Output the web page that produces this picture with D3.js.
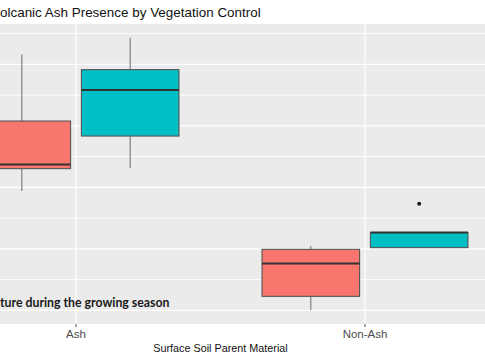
<!DOCTYPE html>
<html><head><meta charset="utf-8">
<script src="https://cdn.jsdelivr.net/npm/d3@7"></script>
<style>html,body{margin:0;padding:0;background:#fff;overflow:hidden}</style>
</head><body>
<svg id="chart" width="485" height="360"></svg>
<script>
// ---- data (y units arbitrary) ----
const categories = ["Ash", "Non-Ash"];
const groups = ["Control", "Treated"];
const groupColors = ["#F8766D", "#00BFC4"];
// five-number summaries: [min, q1, median, q3, max]
const controlStats = [[19.70, 21.52, 21.85, 25.39, 30.79], [10.00, 11.14, 13.80, 14.96, 15.23]];
const treatedStats = [[21.57, 24.17, 27.91, 29.57, 32.17], [15.10, 15.10, 16.32, 16.32, 16.32]];
const treatedOutliers = [[], [18.67]];
const yMajorTicks = [10, 15, 20, 25, 30];
const yMinorTicks = [12.5, 17.5, 22.5, 27.5, 32.5];
const titleText = "olcanic Ash Presence by Vegetation Control";
const xTitle = "Surface Soil Parent Material";
const noteText = "ture during the growing season";

const svg = d3.select("#chart");
const panelTop = 24, panelBottom = 324;
const x = d3.scaleLinear().domain([0.4, 2.6]).range([-97.4, 538.4]);
const yDomMin = 10 - 0.05 * (32.17 - 10), yDomMax = 32.17 + 0.05 * (32.17 - 10);
const y = d3.scaleLinear().domain([yDomMin, yDomMax]).range([panelBottom, panelTop]);

// panel
svg.append("rect").attr("x", x(0.4)).attr("y", panelTop).attr("width", x(2.6) - x(0.4))
  .attr("height", panelBottom - panelTop).attr("fill", "#EBEBEB");

const grid = svg.append("g");
grid.selectAll(".minor").data(yMinorTicks).join("line")
  .attr("x1", x(0.4)).attr("x2", x(2.6)).attr("y1", d => y(d)).attr("y2", d => y(d))
  .attr("stroke", "#fff").attr("stroke-width", 0.9);
grid.selectAll(".major").data(yMajorTicks).join("line")
  .attr("x1", x(0.4)).attr("x2", x(2.6)).attr("y1", d => y(d)).attr("y2", d => y(d))
  .attr("stroke", "#fff").attr("stroke-width", 1.2);
grid.selectAll(".vx").data(categories).join("line")
  .attr("x1", (d, i) => x(i + 1)).attr("x2", (d, i) => x(i + 1))
  .attr("y1", panelTop).attr("y2", panelBottom)
  .attr("stroke", "#fff").attr("stroke-width", 1.2);

// boxes
const boxW = 0.3375, offset = 0.1875;
const series = [controlStats, treatedStats];
series.forEach((stats, gi) => {
  stats.forEach((s, ci) => {
    const cx = ci + 1 + (gi === 0 ? -offset : offset);
    const xl = x(cx - boxW / 2), xr = x(cx + boxW / 2), xc = x(cx);
    const g = svg.append("g");
    g.append("line").attr("x1", xc).attr("x2", xc).attr("y1", y(s[4])).attr("y2", y(s[3]))
      .attr("stroke", "#777").attr("stroke-width", 1.1);
    g.append("line").attr("x1", xc).attr("x2", xc).attr("y1", y(s[1])).attr("y2", y(s[0]))
      .attr("stroke", "#777").attr("stroke-width", 1.1);
    g.append("rect").attr("x", xl).attr("y", y(s[3])).attr("width", xr - xl)
      .attr("height", Math.max(0, y(s[1]) - y(s[3])))
      .attr("fill", groupColors[gi]).attr("stroke", "#555").attr("stroke-width", 1.1);
    g.append("line").attr("x1", xl).attr("x2", xr).attr("y1", y(s[2])).attr("y2", y(s[2]))
      .attr("stroke", "#333").attr("stroke-width", 2);
  });
});
treatedOutliers.forEach((pts, ci) => {
  svg.selectAll(null).data(pts).join("circle")
    .attr("cx", x(ci + 1 + offset)).attr("cy", d => y(d)).attr("r", 2)
    .attr("fill", "#1a1a1a");
});

// x axis
const xAxis = svg.append("g");
xAxis.selectAll("line").data(categories).join("line")
  .attr("x1", (d, i) => x(i + 1)).attr("x2", (d, i) => x(i + 1))
  .attr("y1", panelBottom).attr("y2", panelBottom + 3)
  .attr("stroke", "#444").attr("stroke-width", 1);
xAxis.selectAll("text").data(categories).join("text")
  .attr("x", (d, i) => x(i + 1)).attr("y", 338)
  .attr("text-anchor", "middle").attr("fill", "#4d4d4d")
  .style("font-family", "Liberation Sans, Arial, sans-serif").style("font-size", "11.5px")
  .text(d => d);
svg.append("text").attr("x", (x(0.4) + x(2.6)) / 2).attr("y", 352)
  .attr("text-anchor", "middle").attr("fill", "#111")
  .style("font-family", "Liberation Sans, Arial, sans-serif").style("font-size", "10.8px")
  .text(xTitle);

// title
svg.append("text").attr("x", 0).attr("y", 17).attr("text-anchor", "start").attr("fill", "#111")
  .style("font-family", "Liberation Sans, Arial, sans-serif").style("font-size", "13.45px")
  .text(titleText);

// annotation
svg.append("text").attr("x", 0).attr("y", 307).attr("text-anchor", "start").attr("fill", "#1a1a1a")
  .style("font-family", "Lato, 'Open Sans', sans-serif").style("font-weight", "bold").style("font-size", "12.3px")
  .text(noteText);
</script>
</body></html>
